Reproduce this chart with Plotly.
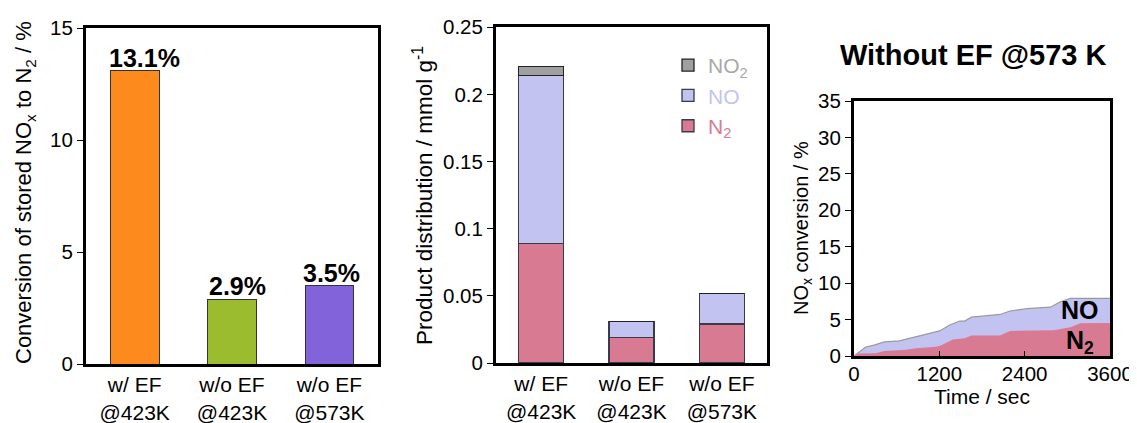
import plotly.graph_objects as go

FONT = "Liberation Sans, Arial, sans-serif"

# Panel 1: conversion of stored NOx to N2
categories = ["w/ EF<br>@423K", "w/o EF<br>@423K", "w/o EF<br>@573K"]
conv_values = [13.1, 2.9, 3.5]
conv_labels = ["13.1%", "2.9%", "3.5%"]
conv_colors = ["#FC8A1D", "#9BBC2E", "#8363D9"]

# Panel 2: product distribution (mmol/g)
n2_dist = [0.089, 0.019, 0.029]
no_dist = [0.125, 0.012, 0.023]
no2_dist = [0.007, 0.0, 0.0]

# Panel 3: NOx conversion vs time (without EF @573 K)
t_total = [0, 165, 283, 425, 637, 826, 1015, 1204, 1345, 1487, 1557, 1652, 1911, 2053,
           2195, 2431, 2761, 2903, 3044, 3600]
conv_total = [0, 1.23, 1.5, 1.93, 2.08, 2.5, 2.92, 3.44, 4.25, 4.8, 4.8, 5.33, 5.57, 5.7,
              6.18, 6.5, 6.7, 7.45, 7.9, 7.9]
t_n2 = [0, 71, 307, 425, 731, 873, 1156, 1227, 1392, 1557, 1652, 2053, 2195, 2808,
        3044, 3186, 3600]
conv_n2 = [0, 0.33, 0.38, 0.7, 0.85, 1.08, 1.27, 1.46, 2.26, 2.45, 2.83, 2.83, 3.44,
           3.54, 3.96, 4.48, 4.53]

C_N2 = "#D87A92"
C_NO = "#C3C3F1"
C_NO2 = "#A0A0A0"

W, H = 1137, 423
OFF = 8  # page body margin offset

def fx(p):
    return (p - OFF) / W

def fy(p):
    return (H - (p - OFF)) / H

def px_x(a, b):
    return [fx(a), fx(b)]

def px_y(top, bottom):
    return [fy(bottom), fy(top)]

fig = go.Figure()

# Panel 1 bars
fig.add_trace(go.Bar(
    x=categories, y=conv_values, marker=dict(color=conv_colors, line=dict(color="#333333", width=1)),
    xaxis="x", yaxis="y", showlegend=False, width=0.5,
))

# Panel 2 stacked bars
fig.add_trace(go.Bar(x=categories, y=n2_dist, name=f"<span style='color:{C_N2}'>N<sub>2</sub></span>",
                     marker=dict(color=C_N2, line=dict(color="#3a3a4a", width=1.3)),
                     xaxis="x2", yaxis="y2", width=0.5))
fig.add_trace(go.Bar(x=categories, y=no_dist, name=f"<span style='color:{C_NO}'>NO</span>",
                     marker=dict(color=C_NO, line=dict(color="#3a3a4a", width=1.3)),
                     xaxis="x2", yaxis="y2", width=0.5))
fig.add_trace(go.Bar(x=categories, y=no2_dist, name="<span style='color:#A8A8A8'>NO<sub>2</sub></span>",
                     marker=dict(color=C_NO2, line=dict(color="#222222", width=1.3)),
                     xaxis="x2", yaxis="y2", width=0.5))

# Panel 3 areas
fig.add_trace(go.Scatter(x=t_total, y=conv_total, mode="lines", fill="tozeroy",
                         fillcolor=C_NO, line=dict(color="#9a9a9a", width=1.2),
                         xaxis="x3", yaxis="y3", showlegend=False))
fig.add_trace(go.Scatter(x=t_n2, y=conv_n2, mode="lines", fill="tozeroy",
                         fillcolor=C_N2, line=dict(color=C_N2, width=0),
                         xaxis="x3", yaxis="y3", showlegend=False))

axis_common = dict(showline=True, linewidth=3, linecolor="black", mirror=True,
                   showgrid=False, zeroline=False, automargin=False,
                   tickfont=dict(family=FONT, size=20.5, color="black"))

fig.update_layout(
    template="none",
    width=W, height=H,
    margin=dict(l=0, r=0, t=0, b=0, pad=0),
    paper_bgcolor="white", plot_bgcolor="white",
    barmode="stack",
    font=dict(family=FONT, color="black"),
    showlegend=True,
    legend=dict(x=fx(668), y=fy(45), xanchor="left", yanchor="top",
                traceorder="reversed", font=dict(family=FONT, size=21),
                bgcolor="rgba(0,0,0,0)", itemclick=False, tracegroupgap=0),
    xaxis=dict(domain=px_x(86, 378), anchor="y", ticks="", **axis_common),
    yaxis=dict(domain=px_y(28, 364), anchor="x", range=[0, 15.0], tickvals=[0, 5, 10, 15],
               ticks="outside", ticklen=6, tickwidth=1, tickcolor="black", **axis_common),
    xaxis2=dict(domain=px_x(496, 767), anchor="y2", ticks="", **axis_common),
    yaxis2=dict(domain=px_y(27, 363), anchor="x2", range=[0, 0.2502],
                tickvals=[0, 0.05, 0.1, 0.15, 0.2, 0.25],
                ticktext=["0", "0.05", "0.1", "0.15", "0.2", "0.25"],
                ticks="outside", ticklen=6, tickwidth=1, tickcolor="black", **axis_common),
    xaxis3=dict(domain=px_x(854, 1110), anchor="y3", range=[0, 3600],
                tickvals=[0, 1200, 2400, 3600], ticks="inside", ticklen=5, tickwidth=1,
                tickcolor="black", ticklabelstandoff=-3,
                title=dict(text="Time / sec", font=dict(family=FONT, size=21), standoff=0),
                **axis_common),
    yaxis3=dict(domain=px_y(101, 356), anchor="x3", range=[0, 35],
                tickvals=[0, 5, 10, 15, 20, 25, 30, 35],
                ticks="outside", ticklen=6, tickwidth=1, tickcolor="black", **axis_common),
)
fig.update_xaxes(tickfont=dict(size=21), selector=dict(anchor="y"))
fig.update_xaxes(tickfont=dict(size=21), selector=dict(anchor="y2"))

annotations = []
# Bar value labels (panel 1)
for cat, v, lab, xs in zip(categories, conv_values, conv_labels, [10, 5, 2]):
    annotations.append(dict(x=cat, y=v, xref="x", yref="y", text=f"<b>{lab}</b>",
                            showarrow=False, xanchor="center", yanchor="bottom",
                            xshift=xs, yshift=-3,
                            font=dict(family=FONT, size=25, color="black")))
# Axis titles
annotations.append(dict(x=fx(9), y=fy(193), xref="paper", yref="paper",
                        xanchor="left", yanchor="middle",
                        text="Conversion of stored NO<sub>x</sub> to N<sub>2</sub> / %",
                        textangle=-90, showarrow=False,
                        font=dict(family=FONT, size=22, color="black")))
annotations.append(dict(x=fx(423), y=fy(196), xref="paper", yref="paper",
                        xanchor="center", yanchor="middle",
                        text="Product distribution / mmol g<sup>-1</sup>",
                        textangle=-90, showarrow=False,
                        font=dict(family=FONT, size=22.5, color="black")))
annotations.append(dict(x=fx(802), y=fy(228), xref="paper", yref="paper",
                        xanchor="center", yanchor="middle",
                        text="NO<sub>x</sub> conversion / %",
                        textangle=-90, showarrow=False,
                        font=dict(family=FONT, size=20, color="black")))
# Panel 3 title
annotations.append(dict(x=fx(973), y=fy(55), xref="paper", yref="paper",
                        xanchor="center", yanchor="middle",
                        text="<b>Without EF @573 K</b>", showarrow=False,
                        font=dict(family=FONT, size=29, color="black")))
# Panel 3 curve labels
annotations.append(dict(x=3180, y=6.3, xref="x3", yref="y3", text="<b>NO</b>",
                        xanchor="center", yanchor="middle",
                        showarrow=False, font=dict(family=FONT, size=25, color="black")))
annotations.append(dict(x=3180, y=1.9, xref="x3", yref="y3", text="<b>N<sub>2</sub></b>",
                        xanchor="center", yanchor="middle",
                        showarrow=False, font=dict(family=FONT, size=25, color="black")))

fig.update_layout(annotations=annotations)

fig.write_html("out.html")
